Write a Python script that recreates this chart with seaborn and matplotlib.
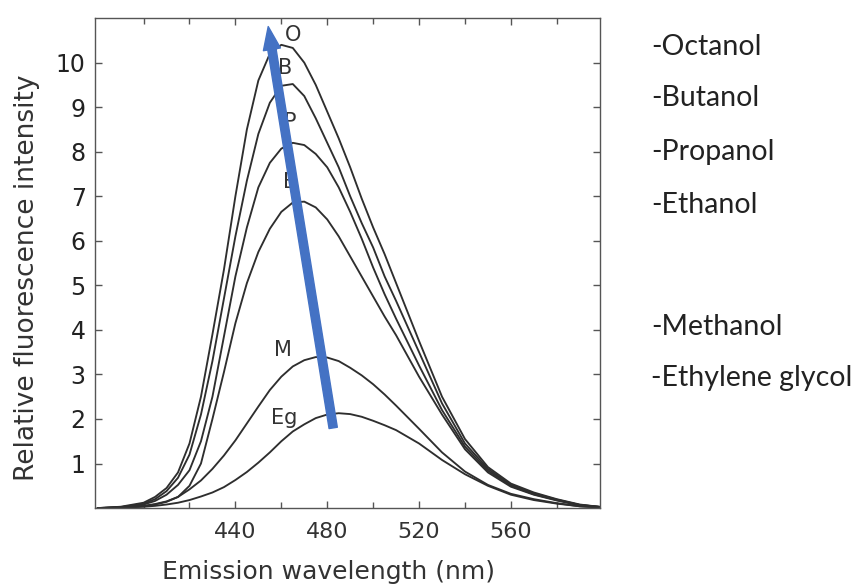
import matplotlib
matplotlib.use("Agg")
import matplotlib.pyplot as plt
import pandas as pd
import seaborn as sns
from matplotlib.patches import FancyArrowPatch

# Emission spectra in different solvents (relative fluorescence intensity)
wavelength = [380, 390, 400, 405, 410, 415, 420, 425, 430, 435, 440, 445, 450,
              455, 460, 465, 470, 475, 480, 485, 490, 495, 500, 505, 510, 520,
              530, 540, 550, 560, 570, 580, 590, 600]

octanol = [0.0, 0.03, 0.12, 0.25, 0.45, 0.8, 1.45, 2.5, 3.9, 5.35, 7.0, 8.5, 9.6,
           10.2, 10.4, 10.33, 10.0, 9.5, 8.9, 8.3, 7.65, 6.95, 6.3, 5.7, 5.05, 3.75,
           2.5, 1.55, 0.92, 0.55, 0.35, 0.2, 0.08, 0.02]
butanol = [0.0, 0.02, 0.1, 0.2, 0.38, 0.68, 1.2, 2.1, 3.3, 4.7, 6.1, 7.35, 8.4,
           9.1, 9.48, 9.52, 9.25, 8.75, 8.2, 7.65, 7.0, 6.4, 5.85, 5.2, 4.65, 3.5,
           2.35, 1.45, 0.88, 0.52, 0.33, 0.19, 0.07, 0.02]
propanol = [0.0, 0.02, 0.08, 0.16, 0.3, 0.52, 0.85, 1.5, 2.5, 3.85, 5.2, 6.3, 7.2,
            7.75, 8.07, 8.2, 8.15, 7.95, 7.65, 7.2, 6.65, 6.05, 5.4, 4.8, 4.25, 3.2,
            2.2, 1.38, 0.84, 0.5, 0.31, 0.18, 0.07, 0.02]
ethanol = [0.0, 0.01, 0.05, 0.09, 0.15, 0.25, 0.5, 1.0, 2.0, 3.05, 4.15, 5.05, 5.75,
           6.27, 6.65, 6.86, 6.88, 6.75, 6.48, 6.1, 5.65, 5.2, 4.75, 4.3, 3.88, 2.95,
           2.1, 1.32, 0.8, 0.48, 0.3, 0.17, 0.06, 0.02]
methanol = [0.0, 0.01, 0.04, 0.08, 0.14, 0.25, 0.42, 0.62, 0.88, 1.18, 1.52, 1.9, 2.28,
            2.65, 2.95, 3.18, 3.32, 3.39, 3.38, 3.3, 3.15, 2.98, 2.78, 2.55, 2.3, 1.78,
            1.25, 0.82, 0.52, 0.32, 0.2, 0.11, 0.04, 0.01]
ethylene_glycol = [0.0, 0.01, 0.03, 0.05, 0.08, 0.12, 0.18, 0.26, 0.35, 0.47, 0.63, 0.81, 1.02,
                   1.25, 1.5, 1.72, 1.88, 2.02, 2.1, 2.13, 2.11, 2.05, 1.96, 1.86, 1.75, 1.45,
                   1.08, 0.76, 0.5, 0.3, 0.18, 0.1, 0.04, 0.01]

solvents = ["Octanol", "Butanol", "Propanol", "Ethanol", "Methanol", "Ethylene glycol"]
short_tags = ["O", "B", "P", "E", "M", "Eg"]
tag_x = [465.2, 461.7, 463.9, 463.5, 460.9, 461.3]
tag_y = [10.63, 9.89, 8.67, 7.33, 3.55, 2.02]

x_ticks = [440, 480, 520, 560]
y_ticks = [1, 2, 3, 4, 5, 6, 7, 8, 9, 10]

series = [octanol, butanol, propanol, ethanol, methanol, ethylene_glycol]
df = pd.concat(
    [pd.DataFrame({"wavelength": wavelength, "intensity": vals, "solvent": name})
     for name, vals in zip(solvents, series)],
    ignore_index=True,
)

sns.set_theme(style="ticks")
plt.rcParams["font.family"] = ["DejaVu Sans"]

fig = plt.figure(figsize=(8.59, 5.84), dpi=100)
ax = fig.add_axes([0.111, 0.130, 0.588, 0.839])

line_col = "#2e2e2e"
sns.lineplot(data=df, x="wavelength", y="intensity", hue="solvent",
             palette={s: line_col for s in solvents}, legend=False,
             linewidth=1.35, ax=ax, sort=True)
for ln in ax.lines:
    ln.set_solid_joinstyle("round")

ax.set_xlim(379, 599)
ax.set_ylim(0, 11.0)
ax.set_xticks(x_ticks)
ax.set_xticks([400, 420, 460, 500, 540, 580], minor=True)
ax.set_yticks(y_ticks)
ax.set_yticklabels([str(v) for v in y_ticks])
ax.set_xlabel("")
ax.set_ylabel("")

for sp in ax.spines.values():
    sp.set_visible(True)
    sp.set_color("#555555")
    sp.set_linewidth(1.0)

ax.tick_params(axis="both", which="both", direction="in", top=True, right=True,
               color="#555555", width=1.0)
ax.tick_params(axis="both", which="major", length=5)
ax.tick_params(axis="both", which="minor", length=4)
ax.tick_params(axis="y", labelsize=17, labelcolor="#222222", pad=7)
ax.tick_params(axis="x", labelsize=16, labelcolor="#333333", pad=10)

# curve tags
for tag, tx, ty in zip(short_tags, tag_x, tag_y):
    ax.text(tx, ty, tag, fontsize=15, color="#333333", ha="center", va="center", zorder=3)

# trend arrow across the peaks
arrow = FancyArrowPatch((482.6, 1.8), (454.3, 10.81),
                        arrowstyle="simple,head_length=0.83,head_width=0.62,tail_width=0.3",
                        mutation_scale=20, color="#4472C4", zorder=6,
                        shrinkA=0, shrinkB=0)
ax.add_patch(arrow)

fig.text(27 / 859, 1 - 278 / 584, "Relative fluorescence intensity", rotation=90,
         fontsize=19, color="#333333", ha="center", va="center")
fig.text(328 / 859, 1 - 572 / 584, "Emission wavelength (nm)",
         fontsize=18, color="#333333", ha="center", va="center")

label_y = [47, 98, 152, 205, 327, 378]
for name, yy in zip(solvents, label_y):
    fig.text(651 / 859, 1 - yy / 584, "-" + name, fontsize=20.5, color="#222222",
             ha="left", va="center", family=["Lato", "DejaVu Sans"])

fig.savefig("out.png", dpi=100, facecolor="white")
